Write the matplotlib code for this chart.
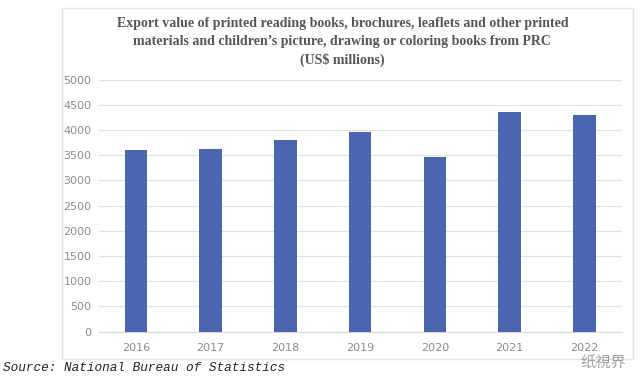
import numpy as np
import matplotlib.pyplot as plt
from matplotlib.patches import Rectangle

years = ["2016", "2017", "2018", "2019", "2020", "2021", "2022"]
values = [3610, 3630, 3805, 3955, 3460, 4350, 4305]

title = ("Export value of printed reading books, brochures, leaflets and other printed\n"
         "materials and children\u2019s picture, drawing or coloring books from PRC\n"
         "(US$ millions)")

fig = plt.figure(figsize=(6.4, 3.8), dpi=100)
fig.patch.set_facecolor("white")

# outer chart frame
fig.add_artist(Rectangle((61.7/640, 1-359/380), (632.7-61.7)/640, (359-8)/380,
                         transform=fig.transFigure, fill=False,
                         edgecolor="#e3e3e3", linewidth=1))

ax = fig.add_axes([98.5/640, 1-331.7/380, (621.7-98.5)/640, (331.7-79.5)/380])
x = np.arange(len(years))
ax.bar(x, values, width=0.30, color="#4a66b0", zorder=3)

ax.set_xlim(-0.5, len(years)-0.5)
ax.set_ylim(0, 5000)
ax.set_yticks(np.arange(0, 5001, 500))
ax.set_xticks(x)
ax.set_xticklabels(years)
ax.grid(axis="y", color="#e2e2e2", linewidth=0.9, zorder=0)
for s in ax.spines.values():
    s.set_visible(False)
ax.spines["bottom"].set_visible(True)
ax.spines["bottom"].set_color("#d9d9d9")
ax.tick_params(length=0, colors="#8c8c8c", labelsize=8, pad=8)
ax.tick_params(axis="y", pad=5)

fig.text(0.535, 1-42/380, title, ha="center", va="center", fontsize=10,
         fontweight="bold", family="Liberation Serif", color="#555555",
         linespacing=1.45)

fig.text(3/640, 1-368/380, "Source: National Bureau of Statistics", ha="left",
         va="center", fontsize=9.2, family="Liberation Mono", style="italic",
         color="#222222")

# watermark
fig.text(603/640, 1-363/380, "纸視界", ha="center", va="center", fontsize=11,
         family=["Noto Sans CJK TC", "DejaVu Sans"], color="#8a8a8a", alpha=0.8)

fig.savefig("out.png", dpi=100)
